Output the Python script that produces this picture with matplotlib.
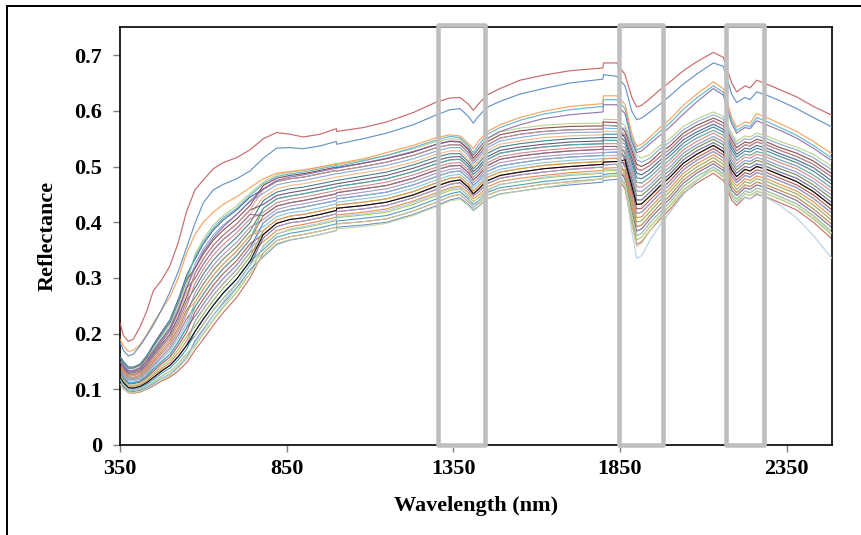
import matplotlib
matplotlib.use('Agg')
import matplotlib.pyplot as plt
from matplotlib.patches import Rectangle
from matplotlib.lines import Line2D

# ---------------- data ----------------
W = [350, 360, 375, 390, 410, 430, 450, 475, 500, 525, 550, 575, 600, 630, 660, 700, 740,
     780, 820, 860, 900, 950, 999, 1000, 1080, 1150, 1230, 1300, 1340, 1370, 1395, 1410,
     1425, 1450, 1490, 1550, 1620, 1700, 1799, 1800, 1840, 1865, 1885, 1900, 1915, 1940,
     1970, 2000, 2040, 2080, 2130, 2160, 2185, 2200, 2225, 2240, 2260, 2290, 2330, 2380,
     2430, 2486]

RED = [.219, .197, .186, .190, .212, .240, .277, .296, .322, .364, .420, .458, .476, .496, .507,
       .516, .530, .550, .561, .558, .553, .558, .568, .563, .570, .580, .597, .616, .623, .624,
       .612, .601, .612, .628, .640, .655, .664, .672, .677, .686, .686, .665, .625, .607, .610,
       .622, .638, .652, .672, .688, .705, .696, .650, .634, .645, .641, .655, .648, .638, .625,
       .608, .592]
BLUE = [.185, .170, .160, .163, .178, .196, .215, .243, .275, .312, .355, .398, .435, .458, .468,
        .478, .492, .515, .533, .534, .532, .537, .545, .540, .550, .560, .575, .593, .602, .604,
        .590, .578, .590, .606, .617, .630, .640, .650, .657, .665, .662, .645, .600, .584, .587,
        .598, .612, .627, .648, .666, .686, .680, .630, .615, .624, .620, .634, .628, .618, .604,
        .588, .571]
ORANGE = [.190, .178, .168, .170, .180, .198, .219, .243, .266, .300, .345, .378, .400, .418, .432,
          .446, .462, .478, .488, .491, .494, .499, .505, .505, .514, .525, .538, .552, .557, .555,
          .542, .532, .545, .562, .575, .588, .599, .608, .613, .627, .627, .612, .560, .536, .540,
          .553, .570, .585, .610, .630, .652, .640, .588, .571, .580, .578, .595, .588, .577, .563,
          .545, .523]
CYAN = [.158, .148, .138, .139, .145, .160, .177, .198, .222, .258, .300, .338, .365, .390, .408,
        .425, .448, .469, .482, .487, .490, .496, .502, .500, .510, .520, .534, .548, .554, .552,
        .538, .525, .538, .557, .570, .583, .594, .602, .608, .620, .620, .604, .553, .530, .534,
        .547, .563, .578, .603, .623, .645, .633, .582, .565, .574, .572, .588, .581, .570, .556,
        .538, .515]
PURPLE = [.150, .141, .131, .132, .137, .150, .166, .186, .206, .240, .282, .318, .347, .372, .392,
          .414, .438, .460, .475, .481, .485, .491, .497, .497, .506, .515, .527, .540, .546, .545,
          .532, .520, .532, .550, .563, .575, .586, .593, .598, .611, .611, .595, .546, .525, .528,
          .541, .556, .571, .594, .616, .640, .628, .577, .560, .570, .568, .582, .575, .565, .551,
          .533, .510]
LIGHTBLUE = [.118, .108, .100, .099, .102, .106, .112, .120, .128, .142, .160, .182, .205, .233, .258,
             .288, .322, .356, .378, .388, .392, .398, .405, .410, .415, .421, .435, .450, .460, .462,
             .445, .426, .437, .456, .467, .474, .481, .486, .489, .494, .495, .470, .385, .335, .340,
             .368, .395, .418, .450, .474, .500, .488, .448, .435, .445, .442, .452, .444, .430, .408,
             .376, .335]
PALEGREEN = [.110, .101, .094, .094, .096, .101, .108, .117, .125, .138, .155, .176, .200, .226, .250,
             .280, .308, .340, .362, .369, .372, .378, .385, .388, .392, .398, .412, .428, .438, .441,
             .430, .420, .427, .441, .450, .456, .462, .470, .478, .483, .485, .468, .400, .356, .362,
             .385, .408, .428, .455, .476, .495, .484, .452, .440, .450, .448, .455, .450, .442, .428,
             .408, .380]

# the main bundle of spectra, read as level tables per spectral segment
# (350-550 nm, 575-740 nm, 780-1840 nm, 1865-2486 nm), top line first
VIS_LEVELS = [
    [.160, .150, .140, .140, .145, .160, .180, .203, .225, .262, .305],
    [.158, .148, .138, .138, .143, .157, .177, .199, .220, .256, .297],
    [.155, .145, .135, .135, .140, .154, .173, .194, .215, .249, .289],
    [.153, .143, .133, .133, .138, .151, .169, .190, .210, .243, .282],
    [.150, .140, .131, .131, .135, .148, .165, .185, .204, .236, .274],
    [.148, .138, .129, .129, .133, .145, .162, .181, .199, .230, .266],
    [.146, .136, .126, .126, .130, .142, .158, .177, .194, .223, .258],
    [.144, .134, .124, .124, .128, .139, .154, .173, .189, .217, .250],
    [.141, .131, .122, .121, .125, .136, .150, .168, .184, .210, .242],
    [.139, .129, .120, .119, .123, .133, .147, .164, .179, .204, .235],
    [.136, .126, .117, .117, .120, .130, .143, .159, .174, .198, .227],
    [.134, .124, .115, .115, .118, .127, .140, .155, .169, .192, .219],
    [.131, .121, .112, .112, .115, .124, .136, .150, .163, .185, .211],
    [.129, .119, .110, .110, .113, .121, .132, .146, .158, .179, .203],
    [.126, .116, .108, .107, .110, .118, .128, .141, .153, .172, .195],
    [.124, .114, .106, .105, .108, .115, .125, .137, .148, .166, .187],
    [.122, .112, .103, .102, .105, .112, .121, .133, .143, .159, .179],
    [.120, .110, .101, .100, .103, .109, .117, .129, .138, .153, .172],
    [.117, .107, .099, .098, .100, .106, .113, .124, .132, .146, .164],
    [.115, .105, .097, .096, .098, .103, .110, .120, .127, .140, .156],
    [.112, .102, .094, .093, .095, .100, .106, .115, .122, .133, .148],
]
EDGE_LEVELS = [
    [.342, .370, .395, .412, .430, .452],
    [.334, .361, .386, .404, .422, .445],
    [.325, .352, .377, .395, .414, .437],
    [.317, .343, .368, .386, .406, .430],
    [.308, .334, .359, .377, .397, .422],
    [.299, .325, .350, .369, .389, .414],
    [.290, .316, .341, .360, .381, .406],
    [.282, .307, .332, .351, .373, .399],
    [.273, .298, .323, .342, .364, .391],
    [.265, .289, .314, .334, .356, .384],
    [.256, .280, .305, .325, .348, .376],
    [.248, .271, .296, .317, .340, .369],
    [.239, .262, .287, .308, .331, .361],
    [.231, .253, .278, .299, .323, .354],
    [.222, .244, .269, .290, .315, .346],
    [.213, .235, .260, .282, .307, .338],
    [.204, .226, .251, .273, .298, .330],
    [.196, .217, .242, .264, .290, .323],
    [.187, .208, .233, .255, .282, .315],
    [.179, .199, .224, .247, .274, .308],
    [.170, .190, .215, .238, .265, .300],
]
NIR_LEVELS = [
    [.472, .485, .490, .493, .499, .505, .503, .512, .520, .532, .545, .550, .549, .535, .520, .530, .549, .562, .569, .574, .577, .578, .585, .584],
    [.466, .479, .484, .487, .493, .499, .498, .506, .514, .526, .540, .545, .544, .530, .515, .525, .544, .557, .564, .569, .572, .573, .580, .579],
    [.459, .473, .478, .481, .487, .493, .492, .500, .508, .520, .534, .539, .539, .525, .510, .520, .538, .551, .558, .563, .566, .567, .574, .573],
    [.452, .467, .472, .475, .481, .487, .487, .495, .502, .514, .528, .534, .534, .520, .505, .515, .533, .546, .552, .558, .561, .562, .569, .568],
    [.445, .460, .466, .469, .475, .481, .481, .489, .496, .508, .522, .528, .528, .514, .500, .510, .528, .540, .546, .552, .555, .557, .563, .563],
    [.439, .454, .460, .463, .469, .475, .475, .483, .490, .503, .517, .523, .523, .509, .496, .505, .523, .535, .541, .546, .550, .552, .558, .558],
    [.432, .448, .453, .457, .463, .469, .469, .477, .484, .497, .511, .517, .518, .504, .491, .499, .517, .529, .535, .540, .544, .546, .552, .552],
    [.425, .442, .447, .451, .457, .463, .464, .471, .478, .491, .505, .512, .513, .499, .486, .494, .512, .524, .530, .535, .539, .541, .547, .547],
    [.418, .435, .441, .445, .451, .457, .458, .465, .472, .485, .499, .506, .507, .494, .481, .489, .506, .518, .524, .529, .533, .536, .541, .541],
    [.412, .429, .435, .439, .445, .451, .453, .460, .466, .479, .494, .501, .502, .489, .476, .484, .501, .513, .519, .524, .528, .531, .536, .536],
    [.405, .423, .429, .433, .439, .445, .447, .454, .460, .473, .488, .495, .497, .484, .471, .479, .496, .507, .513, .518, .522, .525, .530, .531],
    [.399, .417, .423, .427, .433, .439, .442, .448, .454, .467, .482, .490, .492, .479, .466, .474, .491, .501, .507, .513, .517, .520, .525, .526],
    [.392, .410, .417, .420, .426, .433, .436, .442, .448, .461, .476, .484, .486, .473, .461, .469, .485, .495, .501, .507, .511, .514, .519, .520],
    [.385, .404, .411, .414, .420, .427, .431, .436, .442, .455, .471, .479, .481, .468, .456, .464, .480, .490, .496, .502, .506, .509, .514, .515],
    [.378, .398, .405, .408, .414, .421, .425, .430, .436, .449, .465, .473, .476, .463, .451, .459, .474, .484, .490, .496, .500, .504, .508, .509],
    [.372, .392, .399, .402, .408, .415, .419, .424, .430, .444, .459, .468, .471, .458, .447, .454, .469, .479, .485, .490, .495, .499, .503, .504],
    [.365, .385, .392, .396, .402, .409, .413, .418, .424, .438, .453, .462, .465, .453, .442, .448, .463, .473, .479, .484, .489, .493, .497, .498],
    [.358, .379, .386, .390, .396, .403, .408, .413, .418, .432, .448, .457, .460, .448, .437, .443, .458, .468, .473, .479, .484, .488, .492, .493],
    [.351, .373, .380, .384, .390, .397, .402, .407, .412, .426, .442, .451, .455, .442, .432, .438, .453, .462, .467, .473, .478, .483, .486, .488],
    [.345, .367, .374, .378, .384, .391, .397, .401, .406, .420, .436, .446, .450, .437, .427, .433, .448, .457, .462, .468, .473, .478, .481, .483],
    [.338, .360, .368, .372, .378, .385, .391, .395, .400, .414, .430, .440, .444, .432, .422, .428, .442, .451, .456, .462, .467, .472, .475, .477],
]
SWIR_LEVELS = [
    [.574, .545, .520, .515, .522, .538, .550, .572, .585, .598, .590, .560, .545, .555, .553, .560, .555, .545, .535, .522, .500],
    [.569, .538, .512, .508, .515, .532, .544, .566, .580, .593, .585, .554, .540, .550, .548, .555, .550, .540, .530, .516, .494],
    [.563, .531, .504, .500, .508, .525, .537, .560, .574, .587, .579, .548, .534, .544, .542, .549, .544, .534, .524, .510, .487],
    [.557, .524, .496, .493, .502, .518, .531, .554, .568, .582, .573, .542, .528, .539, .537, .544, .539, .529, .518, .504, .481],
    [.551, .516, .488, .485, .495, .511, .525, .548, .562, .576, .567, .536, .522, .533, .531, .538, .533, .523, .512, .498, .474],
    [.546, .509, .480, .478, .488, .505, .519, .542, .557, .571, .562, .530, .517, .528, .526, .533, .528, .518, .507, .492, .468],
    [.540, .502, .472, .470, .481, .498, .512, .536, .551, .565, .556, .524, .511, .522, .520, .527, .522, .512, .501, .485, .461],
    [.534, .495, .464, .463, .474, .492, .506, .530, .545, .560, .550, .518, .505, .517, .515, .522, .517, .507, .496, .479, .455],
    [.528, .487, .456, .455, .467, .485, .499, .524, .539, .554, .544, .512, .499, .511, .509, .516, .511, .501, .490, .473, .448],
    [.523, .480, .448, .448, .461, .479, .493, .518, .534, .549, .539, .506, .494, .506, .504, .511, .506, .496, .485, .467, .442],
    [.517, .473, .440, .440, .454, .472, .487, .512, .528, .543, .533, .500, .488, .500, .498, .505, .500, .490, .479, .461, .435],
    [.512, .466, .432, .433, .447, .465, .481, .506, .522, .538, .527, .494, .482, .495, .492, .500, .495, .485, .473, .455, .429],
    [.506, .458, .424, .425, .440, .458, .474, .500, .516, .532, .521, .488, .476, .489, .486, .494, .489, .479, .467, .449, .422],
    [.500, .451, .416, .418, .433, .452, .468, .494, .511, .527, .516, .482, .471, .484, .481, .489, .484, .474, .462, .443, .416],
    [.494, .444, .408, .410, .426, .445, .461, .488, .505, .521, .510, .476, .465, .478, .475, .483, .478, .468, .456, .437, .409],
    [.489, .437, .400, .403, .419, .439, .455, .482, .499, .516, .504, .470, .459, .473, .470, .478, .473, .463, .451, .431, .403],
    [.483, .429, .392, .395, .412, .432, .448, .476, .493, .510, .498, .464, .453, .467, .464, .472, .467, .457, .445, .424, .396],
    [.477, .422, .384, .388, .406, .425, .442, .470, .488, .505, .493, .458, .448, .462, .459, .467, .462, .452, .439, .418, .390],
    [.471, .415, .376, .380, .399, .418, .436, .464, .482, .499, .487, .452, .442, .456, .453, .461, .456, .446, .433, .412, .383],
    [.466, .408, .368, .373, .392, .412, .430, .458, .476, .494, .481, .446, .436, .451, .448, .456, .451, .441, .428, .406, .377],
    [.460, .400, .360, .365, .385, .405, .423, .452, .470, .488, .475, .440, .430, .445, .442, .450, .445, .435, .422, .400, .370],
]
# which level each spectrum of the bundle follows in the four segments
BUNDLE = [
    (0, 1, 2, 4), (2, 0, 0, 0), (1, 3, 1, 2), (3, 2, 3, 1), (4, 5, 4, 6), (5, 4, 6, 3),
    (6, 7, 5, 5), (7, 6, 8, 7), (8, 9, 7, 9), (9, 8, 10, 8), (10, 11, 9, 11), (11, 10, 12, 10),
    (12, 13, 11, 13), (13, 12, 14, 12), (14, 15, 13, 15), (15, 14, 16, 14), (16, 17, 15, 17),
    (17, 16, 18, 16), (18, 19, 17, 19), (19, 18, 20, 18), (20, 20, 19, 20), (3, 5, 9, 10),
    (12, 11, 7, 6), (8, 10, 13, 16), (16, 14, 11, 8), (6, 4, 2, 3), (14, 17, 19, 18),
    (10, 13, 15, 13),
]
BLACK_LINE = (16, 16, 14, 11)

XTICKS = [350, 850, 1350, 1850, 2350]
YTICKS = [0, 0.1, 0.2, 0.3, 0.4, 0.5, 0.6, 0.7]
YTICKLABELS = ['0', '0.1', '0.2', '0.3', '0.4', '0.5', '0.6', '0.7']
BANDS = [(1303, 1446), (1847, 1980), (2168, 2282)]

# ---------------- drawing ----------------
plt.rcParams['font.family'] = ['Liberation Serif', 'DejaVu Serif']

fig = plt.figure(figsize=(8.62, 5.35), dpi=100)
ax = fig.add_axes([120 / 862, 1 - 445 / 535, 712 / 862, (445 - 27.3) / 535])


def bundle_line(spec):
    a, b, c, d = spec
    return VIS_LEVELS[a] + EDGE_LEVELS[b] + NIR_LEVELS[c] + SWIR_LEVELS[d]


bundle_colors = ['#2C4D75', '#AFC97A', '#772C2A', '#729ACA', '#F9AB6B', '#4D3B62', '#276A7C',
                 '#CD7371', '#5F7530', '#9983B5', '#B65708', '#6FBDD1', '#3A679C', '#9F3B38',
                 '#7E9D40', '#E07A26', '#664F83', '#358EA6', '#9BBB59', '#4F81BD', '#C0504D',
                 '#8064A2', '#4BACC6', '#F79646', '#95B3D7', '#D99694', '#C3D69B', '#B3A2C7']
for spec, col in zip(BUNDLE, bundle_colors):
    ax.plot(W, bundle_line(spec), color=col, lw=0.8, alpha=0.85, zorder=2)

ax.plot(W, bundle_line(BLACK_LINE), color='#000000', lw=0.8, alpha=0.9, zorder=2)
for vals, col in [(LIGHTBLUE, '#A9CBE0'), (PALEGREEN, '#C3D69B'), (PURPLE, '#8064A2'),
                  (CYAN, '#4BACC6'), (ORANGE, '#F79646'), (BLUE, '#4F81BD'), (RED, '#C0504D')]:
    ax.plot(W, vals, color=col, lw=0.85, alpha=0.85, zorder=3)

ax.set_xlim(350, 2486)
ax.set_ylim(0, 0.75)
ax.set_xticks(XTICKS)
ax.set_xticklabels([str(t) for t in XTICKS])
ax.set_yticks(YTICKS)
ax.set_yticklabels(YTICKLABELS)
ax.tick_params(direction='out', length=5, width=1, color='#7F7F7F',
               labelsize=16, labelcolor='black')
ax.tick_params(axis='y', pad=8)
ax.tick_params(axis='x', pad=5)
for lab in ax.get_xticklabels() + ax.get_yticklabels():
    lab.set_fontweight('bold')
for sp in ax.spines.values():
    sp.set_linewidth(1.2)
    sp.set_color('black')

ax.set_xlabel('Wavelength (nm)', fontsize=16, fontweight='bold', labelpad=12)
ax.set_ylabel('Reflectance', fontsize=16, fontweight='bold', labelpad=12)

for x0, x1 in BANDS:
    ax.add_patch(Rectangle((x0, 0), x1 - x0, 0.7545, fill=False, ec='#BFBFBF',
                           lw=3.3, clip_on=False, zorder=6, joinstyle='round'))

# outer frame of the picture
fig.add_artist(Line2D([7.3 / 862, 1.0], [1 - 5.5 / 535] * 2, transform=fig.transFigure,
                      color='black', lw=1.4))
fig.add_artist(Line2D([7.3 / 862] * 2, [0.0, 1 - 5.5 / 535], transform=fig.transFigure,
                      color='black', lw=1.4))

fig.savefig('out.png', dpi=100)
